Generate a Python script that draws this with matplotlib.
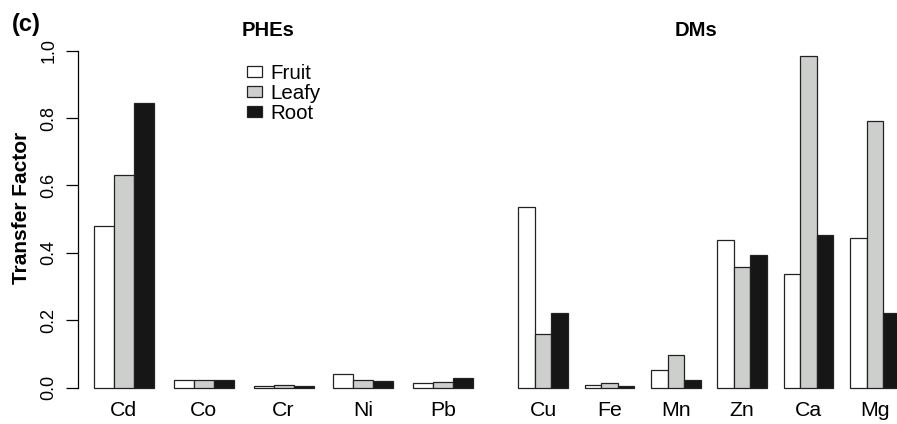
import matplotlib
matplotlib.use("Agg")
import matplotlib.pyplot as plt
from matplotlib.patches import Patch
import numpy as np

plt.rcParams['font.family'] = ['Liberation Sans', 'DejaVu Sans']

# --- veriler ---
phe_names = ['Cd', 'Co', 'Cr', 'Ni', 'Pb']
phe_fruit = [0.480, 0.022, 0.006, 0.040, 0.014]
phe_leafy = [0.631, 0.024, 0.009, 0.022, 0.017]
phe_root = [0.845, 0.022, 0.006, 0.019, 0.030]

dm_names = ['Cu', 'Fe', 'Mn', 'Zn', 'Ca', 'Mg']
dm_fruit = [0.535, 0.007, 0.052, 0.439, 0.338, 0.445]
dm_leafy = [0.159, 0.013, 0.096, 0.359, 0.984, 0.790]
dm_root = [0.221, 0.005, 0.022, 0.393, 0.452, 0.221]

groups = ['Fruit', 'Leafy', 'Root']
renkler = ['white', '#cdcfcd', '#161616']
kenar = '#222222'

W, H = 897, 424
fig = plt.figure(figsize=(W / 100, H / 100), dpi=100)

alt, ust = 401.2, 37.2
ax1 = fig.add_axes([78.3 / W, (H - alt) / H, 410.4 / W, (alt - ust) / H])
ax2 = fig.add_axes([503.05 / W, (H - alt) / H, 411.9 / W, (alt - ust) / H])


def bar_ciz(ax, names, seriler):
    n = len(names)
    for j, (vals, renk) in enumerate(zip(seriler, renkler)):
        x = np.arange(n) * 4 + 1 + j
        ax.bar(x, vals, width=1, align='edge', color=renk,
               edgecolor=kenar, linewidth=0.9)
    ax.set_xlim(1 - 0.04 * (4 * n - 1), 4 * n + 0.04 * (4 * n - 1))
    ax.set_ylim(-0.04, 1.04)
    ax.set_xticks(np.arange(n) * 4 + 2.5)
    ax.set_xticklabels(names, fontsize=15.3)
    ax.tick_params(axis='x', length=0, pad=-0.5)
    for s in ['top', 'right', 'bottom']:
        ax.spines[s].set_visible(False)


bar_ciz(ax1, phe_names, [phe_fruit, phe_leafy, phe_root])
bar_ciz(ax2, dm_names, [dm_fruit, dm_leafy, dm_root])

ax1.spines['left'].set_bounds(0, 1)
ax1.spines['left'].set_linewidth(0.9)
ax1.set_yticks(np.arange(0, 1.01, 0.2))
ax1.set_yticklabels(['0.0', '0.2', '0.4', '0.6', '0.8', '1.0'],
                    rotation=90, va='center', fontsize=13)
ax1.tick_params(axis='y', length=9, width=0.9, pad=6)

ax2.spines['left'].set_visible(False)
ax2.set_yticks([])

fig.text(22 / W, 1 - 208 / H, 'Transfer Factor', rotation=90,
         ha='center', va='center', fontsize=15, fontweight='bold')
fig.text(12 / W, 1 - 24 / H, '(c)', ha='left', va='center',
         fontsize=17, fontweight='bold')
fig.text(268.3 / W, 1 - 30.5 / H, 'PHEs', ha='center', va='center',
         fontsize=14.6, fontweight='bold')
fig.text(696.5 / W, 1 - 30.5 / H, 'DMs', ha='center', va='center',
         fontsize=14.6, fontweight='bold')

handles = [Patch(facecolor=r, edgecolor=kenar, linewidth=0.9) for r in renkler]
ax1.legend(handles, groups, loc='upper left', frameon=False, fontsize=14.8,
           bbox_to_anchor=(246.7 / W, 1 - 64 / H),
           bbox_transform=fig.transFigure, borderpad=0, borderaxespad=0,
           handlelength=0.73, handleheight=0.46, handletextpad=0.4,
           labelspacing=0.05)

fig.savefig('out.png', dpi=100)
